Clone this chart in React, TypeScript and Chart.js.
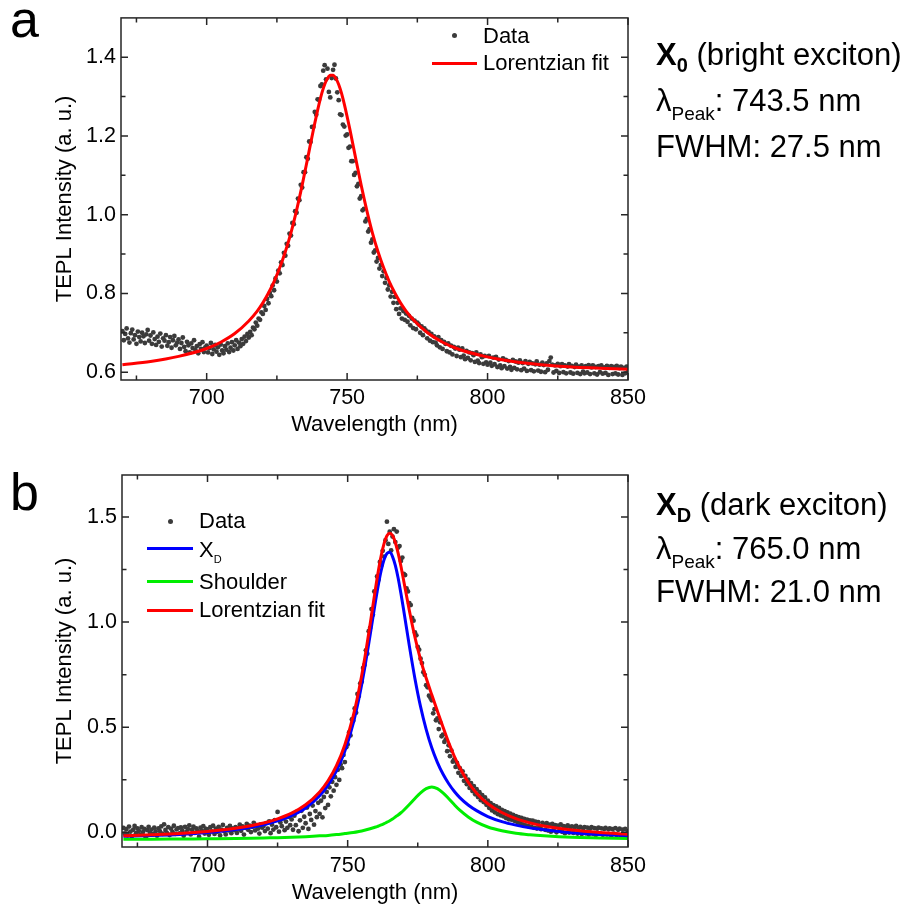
import React, { useEffect, useRef } from 'react';
import { Chart, registerables } from 'chart.js';

Chart.register(...registerables);

const FONT = "'Liberation Sans', Arial, Helvetica, sans-serif";

// ---- axes ----
const X_MIN = 669.5;
const X_MAX = 850;
const X_MAJOR = [700, 750, 800, 850];
const X_MINOR = [675, 725, 775, 825];

const A_Y_MIN = 0.58;
const A_Y_MAX = 1.5;
const A_Y_MAJOR = [0.6, 0.8, 1.0, 1.2, 1.4];
const A_Y_MINOR = [0.7, 0.9, 1.1, 1.3];

const B_Y_MIN = -0.07;
const B_Y_MAX = 1.7;
const B_Y_MAJOR = [0, 0.5, 1.0, 1.5];
const B_Y_MINOR = [0.25, 0.75, 1.25];

// ---- measured data: each row covers 10 nm starting at 670 + 10*row, sampled every 0.5 nm ----
const DATA_START = 670;
const ROW_SPAN = 10;
const DATA_STEP = 0.5;

const A_DATA_ROWS = [
  [0.704, 0.681, 0.697, 0.711, 0.686, 0.675, 0.699, 0.708, 0.683, 0.694, 0.672, 0.703, 0.689, 0.678, 0.700, 0.691, 0.674, 0.696, 0.707, 0.680],
  [0.693, 0.672, 0.701, 0.684, 0.669, 0.690, 0.677, 0.698, 0.665, 0.686, 0.680, 0.694, 0.667, 0.676, 0.689, 0.662, 0.681, 0.692, 0.668, 0.675],
  [0.683, 0.659, 0.674, 0.688, 0.664, 0.653, 0.677, 0.668, 0.650, 0.673, 0.661, 0.681, 0.656, 0.666, 0.648, 0.671, 0.659, 0.676, 0.651, 0.663],
  [0.667, 0.650, 0.661, 0.674, 0.646, 0.658, 0.669, 0.652, 0.663, 0.644, 0.670, 0.655, 0.648, 0.666, 0.657, 0.673, 0.651, 0.662, 0.676, 0.655],
  [0.668, 0.681, 0.659, 0.675, 0.666, 0.684, 0.672, 0.690, 0.679, 0.697, 0.688, 0.702, 0.694, 0.713, 0.709, 0.726, 0.718, 0.736, 0.733, 0.752],
  [0.748, 0.768, 0.758, 0.786, 0.775, 0.801, 0.793, 0.820, 0.808, 0.838, 0.830, 0.858, 0.851, 0.879, 0.872, 0.903, 0.896, 0.926, 0.921, 0.952],
  [0.947, 0.979, 0.976, 1.009, 1.005, 1.041, 1.037, 1.076, 1.069, 1.108, 1.108, 1.146, 1.142, 1.186, 1.185, 1.223, 1.223, 1.261, 1.254, 1.293],
  [1.292, 1.327, 1.331, 1.366, 1.380, 1.344, 1.371, 1.312, 1.298, 1.347, 1.368, 1.381, 1.346, 1.311, 1.291, 1.255, 1.253, 1.229, 1.224, 1.201],
  [1.204, 1.170, 1.173, 1.136, 1.136, 1.101, 1.106, 1.072, 1.078, 1.041, 1.047, 1.011, 1.015, 0.983, 0.989, 0.957, 0.963, 0.929, 0.937, 0.904],
  [0.909, 0.881, 0.890, 0.863, 0.872, 0.844, 0.856, 0.827, 0.839, 0.810, 0.821, 0.792, 0.804, 0.776, 0.791, 0.760, 0.776, 0.748, 0.762, 0.736],
  [0.755, 0.733, 0.749, 0.728, 0.743, 0.719, 0.736, 0.712, 0.731, 0.709, 0.726, 0.721, 0.700, 0.716, 0.694, 0.711, 0.706, 0.686, 0.702, 0.680],
  [0.697, 0.676, 0.691, 0.675, 0.668, 0.689, 0.663, 0.681, 0.659, 0.677, 0.672, 0.653, 0.673, 0.650, 0.667, 0.645, 0.664, 0.660, 0.641, 0.662],
  [0.657, 0.638, 0.660, 0.642, 0.633, 0.654, 0.636, 0.650, 0.630, 0.648, 0.643, 0.626, 0.650, 0.629, 0.623, 0.645, 0.638, 0.621, 0.641, 0.625],
  [0.619, 0.641, 0.624, 0.616, 0.637, 0.620, 0.639, 0.613, 0.632, 0.617, 0.610, 0.635, 0.615, 0.631, 0.609, 0.628, 0.613, 0.606, 0.631, 0.611],
  [0.627, 0.607, 0.624, 0.630, 0.605, 0.623, 0.609, 0.628, 0.603, 0.621, 0.626, 0.605, 0.622, 0.602, 0.620, 0.627, 0.604, 0.619, 0.601, 0.624],
  [0.618, 0.600, 0.622, 0.606, 0.628, 0.637, 0.619, 0.599, 0.617, 0.603, 0.621, 0.598, 0.615, 0.620, 0.600, 0.617, 0.597, 0.614, 0.620, 0.599],
  [0.616, 0.596, 0.613, 0.619, 0.598, 0.614, 0.595, 0.617, 0.601, 0.597, 0.615, 0.599, 0.618, 0.595, 0.612, 0.617, 0.597, 0.613, 0.594, 0.615],
  [0.600, 0.617, 0.596, 0.612, 0.598, 0.616, 0.593, 0.611, 0.615, 0.595, 0.613, 0.597, 0.616, 0.594, 0.610, 0.614, 0.593, 0.611, 0.597, 0.614],
  [0.601],
];

const B_DATA_ROWS = [
  [0.021, -0.006, 0.015, -0.014, 0.027, 0.003, -0.019, 0.012, 0.030, -0.004, 0.018, 0.007, -0.011, 0.024, 0.001, 0.016, -0.024, 0.010, 0.026, -0.002],
  [0.013, -0.009, 0.022, 0.004, -0.016, 0.019, 0.006, 0.028, -0.007, 0.038, 0.011, -0.003, 0.025, -0.013, 0.017, 0.002, 0.031, -0.008, 0.014, 0.020],
  [-0.005, 0.023, 0.009, -0.017, 0.026, 0.001, 0.015, 0.033, -0.010, 0.012, 0.027, -0.003, 0.018, 0.006, -0.021, 0.022, 0.008, 0.029, -0.006, 0.016],
  [0.010, -0.012, 0.024, 0.004, 0.031, -0.008, 0.017, 0.002, 0.026, -0.015, 0.013, 0.035, 0.005, -0.010, 0.021, 0.009, 0.030, -0.004, 0.019, 0.011],
  [0.024, -0.003, 0.018, 0.036, 0.007, 0.028, -0.011, 0.021, 0.040, 0.012, 0.031, 0.001, 0.026, 0.045, 0.009, 0.034, 0.017, -0.006, 0.038, 0.022],
  [0.030, 0.006, 0.044, 0.017, 0.052, -0.004, 0.036, 0.013, 0.058, 0.024, 0.097, 0.003, 0.047, 0.029, 0.066, 0.010, 0.051, 0.021, 0.074, 0.034],
  [0.061, 0.012, 0.079, 0.034, 0.098, 0.005, 0.057, 0.102, 0.021, 0.074, 0.043, 0.118, 0.016, 0.087, 0.059, 0.127, 0.036, 0.101, 0.072, 0.140],
  [0.088, 0.150, 0.071, 0.168, 0.115, 0.192, 0.130, 0.214, 0.171, 0.240, 0.198, 0.262, 0.226, 0.297, 0.249, 0.323, 0.305, 0.368, 0.334, 0.405],
  [0.418, 0.475, 0.461, 0.537, 0.531, 0.589, 0.569, 0.658, 0.648, 0.709, 0.716, 0.782, 0.796, 0.866, 0.850, 0.957, 0.972, 1.062, 1.035, 1.146],
  [1.140, 1.217, 1.202, 1.286, 1.270, 1.339, 1.312, 1.390, 1.478, 1.372, 1.430, 1.341, 1.407, 1.442, 1.381, 1.431, 1.355, 1.362, 1.291, 1.307],
  [1.230, 1.224, 1.160, 1.146, 1.090, 1.081, 1.020, 1.007, 0.951, 0.937, 0.882, 0.869, 0.826, 0.805, 0.762, 0.749, 0.700, 0.690, 0.650, 0.640],
  [0.628, 0.566, 0.586, 0.533, 0.542, 0.491, 0.523, 0.457, 0.465, 0.430, 0.442, 0.386, 0.414, 0.362, 0.389, 0.336, 0.347, 0.311, 0.330, 0.283],
  [0.305, 0.268, 0.290, 0.245, 0.268, 0.229, 0.250, 0.211, 0.234, 0.196, 0.220, 0.181, 0.205, 0.168, 0.191, 0.153, 0.177, 0.144, 0.166, 0.131],
  [0.150, 0.116, 0.139, 0.104, 0.129, 0.095, 0.123, 0.087, 0.116, 0.081, 0.107, 0.076, 0.100, 0.068, 0.095, 0.062, 0.089, 0.060, 0.083, 0.055],
  [0.077, 0.049, 0.072, 0.043, 0.069, 0.037, 0.064, 0.033, 0.060, 0.029, 0.056, 0.027, 0.055, 0.021, 0.051, 0.018, 0.048, 0.025, 0.015, 0.045],
  [0.038, 0.012, 0.043, 0.008, 0.036, 0.003, 0.040, 0.010, 0.034, 0.000, 0.032, 0.007, 0.037, 0.002, 0.029, -0.004, 0.027, 0.033, -0.001, 0.024],
  [0.028, -0.003, 0.023, 0.030, -0.006, 0.021, 0.026, -0.008, 0.019, 0.025, -0.005, 0.022, -0.011, 0.018, 0.024, -0.007, 0.020, -0.013, 0.017, 0.022],
  [-0.005, 0.019, -0.012, 0.016, 0.021, -0.010, 0.014, 0.018, -0.015, 0.015, -0.007, 0.020, -0.013, 0.012, 0.017, -0.017, 0.013, -0.008, 0.016, -0.014],
  [0.005],
];

// ---- fitted curves ----
const A_FIT_X = [670, 680, 690, 700, 705, 710, 715, 718, 720, 722, 724, 726, 728, 730, 732, 734, 736, 738, 740, 741, 742, 743, 744, 745, 746, 747, 748, 749, 751, 753, 755, 757, 759, 761, 763, 765, 767, 769, 771, 774, 779, 784, 789, 799, 809, 819, 830, 840, 850];
const A_FIT_Y = [0.619, 0.627, 0.640, 0.660, 0.676, 0.698, 0.730, 0.755, 0.776, 0.801, 0.830, 0.865, 0.906, 0.954, 1.011, 1.075, 1.145, 1.216, 1.281, 1.309, 1.331, 1.346, 1.354, 1.354, 1.346, 1.331, 1.309, 1.281, 1.216, 1.145, 1.075, 1.011, 0.954, 0.906, 0.865, 0.830, 0.801, 0.776, 0.755, 0.730, 0.698, 0.676, 0.660, 0.640, 0.627, 0.619, 0.613, 0.610, 0.607];

const B_FIT_X = [670, 680, 690, 700, 710, 720, 725, 730, 735, 740, 743, 746, 749, 752, 754, 756, 758, 760, 761, 762, 763, 764, 765, 766, 767, 768, 769, 770, 772, 774, 776, 778, 780, 782, 784, 786, 788, 790, 793, 796, 800, 805, 810, 815, 820, 830, 840, 850];
const B_XD_Y = [-0.019, -0.015, -0.010, -0.001, 0.013, 0.036, 0.054, 0.079, 0.116, 0.174, 0.224, 0.292, 0.387, 0.520, 0.636, 0.776, 0.937, 1.105, 1.182, 1.248, 1.298, 1.327, 1.332, 1.312, 1.270, 1.210, 1.136, 1.055, 0.887, 0.731, 0.598, 0.490, 0.402, 0.333, 0.277, 0.232, 0.195, 0.165, 0.130, 0.103, 0.075, 0.051, 0.034, 0.021, 0.012, -0.002, -0.010, -0.016];
const B_SHOULDER_Y = [-0.033, -0.033, -0.032, -0.031, -0.030, -0.027, -0.026, -0.024, -0.021, -0.017, -0.015, -0.011, -0.006, -0.001, 0.004, 0.010, 0.017, 0.025, 0.030, 0.035, 0.041, 0.048, 0.055, 0.063, 0.073, 0.082, 0.093, 0.105, 0.132, 0.161, 0.188, 0.208, 0.216, 0.208, 0.188, 0.161, 0.132, 0.105, 0.073, 0.048, 0.025, 0.007, -0.005, -0.012, -0.017, -0.024, -0.027, -0.030];
const B_FIT_Y = [-0.017, -0.012, -0.006, 0.004, 0.019, 0.044, 0.064, 0.091, 0.131, 0.192, 0.245, 0.317, 0.417, 0.555, 0.676, 0.821, 0.989, 1.166, 1.248, 1.319, 1.375, 1.411, 1.423, 1.412, 1.379, 1.328, 1.266, 1.196, 1.055, 0.928, 0.822, 0.734, 0.654, 0.577, 0.501, 0.428, 0.363, 0.307, 0.238, 0.186, 0.136, 0.094, 0.065, 0.045, 0.030, 0.011, -0.001, -0.009];

const rowsToPoints = (rows: number[][]) =>
  rows.flatMap((row, r) => row.map((y, j) => ({ x: DATA_START + r * ROW_SPAN + j * DATA_STEP, y })));
const zipXY = (xs: number[], ys: number[]) => xs.map((x, i) => ({ x, y: ys[i] }));

const DOT_COLOR = '#3b3b3b';

function framePlugin(xMajor: number[], xMinor: number[], yMajor: number[], yMinor: number[]) {
  return {
    id: 'frameTicks',
    afterDatasetsDraw(chart: any) {
      const { ctx, chartArea } = chart;
      const { left, right, top, bottom } = chartArea;
      const xs = chart.scales.x;
      const ys = chart.scales.y;
      ctx.save();
      ctx.strokeStyle = '#262626';
      ctx.lineWidth = 1.5;
      ctx.strokeRect(left, top, right - left, bottom - top);
      ctx.beginPath();
      const xt = (vals: number[], len: number) => {
        vals.forEach((v) => {
          const p = xs.getPixelForValue(v);
          ctx.moveTo(p, bottom);
          ctx.lineTo(p, bottom - len);
          ctx.moveTo(p, top);
          ctx.lineTo(p, top + len);
        });
      };
      const yt = (vals: number[], len: number) => {
        vals.forEach((v) => {
          const p = ys.getPixelForValue(v);
          ctx.moveTo(left, p);
          ctx.lineTo(left + len, p);
          ctx.moveTo(right, p);
          ctx.lineTo(right - len, p);
        });
      };
      xt(xMajor, 7);
      xt(xMinor, 4.5);
      yt(yMajor, 7);
      yt(yMinor, 4.5);
      ctx.stroke();
      ctx.restore();
    },
  };
}

function buildOptions(p: {
  yMin: number; yMax: number; yTicks: number[]; yWidth: number; xHeight: number;
  padTop: number; xTitlePadBottom: number; xTickPad: number;
}) {
  return {
    responsive: false,
    animation: false,
    events: [],
    layout: { padding: { left: 0, right: 281, top: p.padTop, bottom: 0 } },
    plugins: { legend: { display: false }, tooltip: { enabled: false } },
    scales: {
      x: {
        type: 'linear',
        min: X_MIN,
        max: X_MAX,
        afterBuildTicks: (s: any) => { s.ticks = X_MAJOR.map((v) => ({ value: v })); },
        afterFit: (s: any) => { s.height = p.xHeight; },
        grid: { display: false, drawTicks: false },
        border: { display: false },
        ticks: {
          color: '#000', font: { family: FONT, size: 21.5 }, padding: p.xTickPad,
          maxRotation: 0, autoSkip: false, callback: (v: any) => String(v),
        },
        title: {
          display: true, text: 'Wavelength (nm)', color: '#000',
          font: { family: FONT, size: 22 }, padding: { top: 0, bottom: p.xTitlePadBottom },
        },
      },
      y: {
        type: 'linear',
        min: p.yMin,
        max: p.yMax,
        afterBuildTicks: (s: any) => { s.ticks = p.yTicks.map((v) => ({ value: v })); },
        afterFit: (s: any) => { s.width = p.yWidth; },
        grid: { display: false, drawTicks: false },
        border: { display: false },
        ticks: {
          color: '#000', font: { family: FONT, size: 21.5 }, padding: 5,
          autoSkip: false, callback: (v: any) => Number(v).toFixed(1),
        },
        title: {
          display: true, text: 'TEPL Intensity (a. u.)', color: '#000',
          font: { family: FONT, size: 22 }, padding: { top: 65 - 13.2, bottom: 0 },
        },
      },
    },
  } as any;
}

export default function App() {
  const refA = useRef<HTMLCanvasElement>(null);
  const refB = useRef<HTMLCanvasElement>(null);

  useEffect(() => {
    document.body.style.margin = '0';
    document.body.style.overflow = 'hidden';
    const chartA = new Chart(refA.current as HTMLCanvasElement, {
      type: 'scatter',
      data: {
        datasets: [
          {
            label: 'Lorentzian fit', data: zipXY(A_FIT_X, A_FIT_Y), showLine: true, pointRadius: 0,
            borderColor: '#ff0000', borderWidth: 3, cubicInterpolationMode: 'monotone', fill: false,
          },
          {
            label: 'Data', data: rowsToPoints(A_DATA_ROWS), pointRadius: 2.4, pointBorderWidth: 0,
            pointBackgroundColor: DOT_COLOR, pointBorderColor: DOT_COLOR, backgroundColor: DOT_COLOR,
          },
        ],
      } as any,
      options: buildOptions({
        yMin: A_Y_MIN, yMax: A_Y_MAX, yTicks: A_Y_MAJOR, yWidth: 121, xHeight: 70,
        padTop: 7, xTitlePadBottom: 11.8, xTickPad: 5,
      }),
      plugins: [framePlugin(X_MAJOR, X_MINOR, A_Y_MAJOR, A_Y_MINOR)],
    });
    const chartB = new Chart(refB.current as HTMLCanvasElement, {
      type: 'scatter',
      data: {
        datasets: [
          {
            label: 'Lorentzian fit', data: zipXY(B_FIT_X, B_FIT_Y), showLine: true, pointRadius: 0,
            borderColor: '#ff0000', borderWidth: 3, cubicInterpolationMode: 'monotone', fill: false,
          },
          {
            label: 'XD', data: zipXY(B_FIT_X, B_XD_Y), showLine: true, pointRadius: 0,
            borderColor: '#0000ff', borderWidth: 3, cubicInterpolationMode: 'monotone', fill: false,
          },
          {
            label: 'Shoulder', data: zipXY(B_FIT_X, B_SHOULDER_Y), showLine: true, pointRadius: 0,
            borderColor: '#00ee00', borderWidth: 3, cubicInterpolationMode: 'monotone', fill: false,
          },
          {
            label: 'Data', data: rowsToPoints(B_DATA_ROWS), pointRadius: 2.4, pointBorderWidth: 0,
            pointBackgroundColor: DOT_COLOR, pointBorderColor: DOT_COLOR, backgroundColor: DOT_COLOR,
          },
        ],
      } as any,
      options: buildOptions({
        yMin: B_Y_MIN, yMax: B_Y_MAX, yTicks: B_Y_MAJOR, yWidth: 122, xHeight: 64,
        padTop: 20, xTitlePadBottom: 4.8, xTickPad: 6,
      }),
      plugins: [framePlugin(X_MAJOR, X_MINOR, B_Y_MAJOR, B_Y_MINOR)],
    });
    return () => {
      chartA.destroy();
      chartB.destroy();
    };
  }, []);

  const abs = (left: number, top: number, extra: React.CSSProperties = {}): React.CSSProperties => ({
    position: 'absolute', left, top, whiteSpace: 'nowrap', ...extra,
  });
  const legendText = (left: number, top: number): React.CSSProperties =>
    abs(left, top, { fontSize: 22, lineHeight: '22px', color: '#000' });
  const bigText = (top: number): React.CSSProperties =>
    abs(656, top, { fontSize: 31, lineHeight: '31px', color: '#000' });
  const line = (left: number, top: number, width: number, color: string): React.CSSProperties =>
    abs(left, top, { width, height: 3, background: color });
  const dot = (cx: number, cy: number): React.CSSProperties =>
    abs(cx - 2.5, cy - 2.5, { width: 5, height: 5, borderRadius: '50%', background: DOT_COLOR });

  return (
    <div style={{ position: 'absolute', left: 0, top: 0, width: 909, height: 911, overflow: 'hidden', background: '#fff', fontFamily: FONT }}>
      <canvas ref={refA} width={909} height={450} style={{ position: 'absolute', left: 0, top: 0 }} />
      <canvas ref={refB} width={909} height={456} style={{ position: 'absolute', left: 0, top: 455 }} />

      {/* panel labels */}
      <div style={abs(10, -7, { fontSize: 52, lineHeight: '52px' })}>a</div>
      <div style={abs(10, 466, { fontSize: 52, lineHeight: '52px' })}>b</div>

      {/* legend a */}
      <div style={dot(454, 35.5)} />
      <div style={legendText(483, 25)}>Data</div>
      <div style={line(432, 61.5, 45, '#ff0000')} />
      <div style={legendText(483, 52)}>Lorentzian fit</div>

      {/* legend b */}
      <div style={dot(170, 521)} />
      <div style={legendText(199, 510)}>Data</div>
      <div style={line(147, 547, 46, '#0000ff')} />
      <div style={legendText(199, 538.5)}>X<span style={{ fontSize: 11, position: 'relative', top: 6 }}>D</span></div>
      <div style={line(147, 579.5, 46, '#00ee00')} />
      <div style={legendText(199, 571)}>Shoulder</div>
      <div style={line(147, 608.5, 46, '#ff0000')} />
      <div style={legendText(199, 599)}>Lorentzian fit</div>

      {/* annotations a */}
      <div style={bigText(38.5)}>
        <b>X<span style={{ fontSize: 20, position: 'relative', top: 7 }}>0</span></b> (bright exciton)
      </div>
      <div style={bigText(84.5)}>
        λ<span style={{ fontSize: 19, position: 'relative', top: 9 }}>Peak</span>: 743.5 nm
      </div>
      <div style={bigText(130.5)}>FWHM: 27.5 nm</div>

      {/* annotations b */}
      <div style={bigText(489)}>
        <b>X<span style={{ fontSize: 20, position: 'relative', top: 7 }}>D</span></b> (dark exciton)
      </div>
      <div style={bigText(533)}>
        λ<span style={{ fontSize: 19, position: 'relative', top: 9 }}>Peak</span>: 765.0 nm
      </div>
      <div style={bigText(576)}>FWHM: 21.0 nm</div>
    </div>
  );
}
